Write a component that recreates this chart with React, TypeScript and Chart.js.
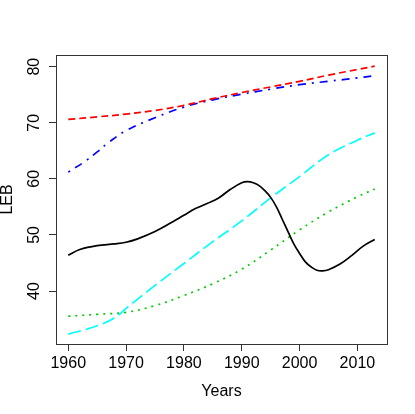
import React, { useEffect, useRef } from "react";
import { Chart, registerables } from "chart.js";

Chart.register(...registerables);

// ---- data ----
const xTicks = [1960, 1970, 1980, 1990, 2000, 2010];
const yTicks = [40, 50, 60, 70, 80];

const blackYears = [1960, 1962, 1965, 1968, 1970, 1972, 1975, 1978, 1980, 1982, 1984, 1986, 1988, 1990, 1991, 1992, 1993, 1994, 1995, 1996, 1997, 1998, 1999, 2000, 2001, 2002, 2003, 2004, 2005, 2007, 2009, 2011, 2013];
const blackLEB = [46.4, 47.4, 48.1, 48.4, 48.7, 49.3, 50.6, 52.3, 53.5, 54.7, 55.6, 56.6, 58.1, 59.3, 59.5, 59.3, 58.8, 57.9, 56.7, 55.0, 52.8, 50.6, 48.4, 46.7, 45.2, 44.3, 43.7, 43.6, 43.8, 44.8, 46.3, 48.0, 49.2];

const redYears = [1960, 1965, 1970, 1975, 1980, 1985, 1990, 1995, 2000, 2005, 2010, 2013];
const redLEB = [70.6, 71.05, 71.55, 72.2, 73.1, 74.3, 75.4, 76.4, 77.4, 78.5, 79.5, 80.1];

const greenYears = [1960, 1965, 1970, 1975, 1980, 1985, 1990, 1995, 2000, 2005, 2010, 2013];
const greenLEB = [35.5, 35.85, 36.2, 37.4, 39.2, 41.3, 43.9, 47.3, 50.9, 54.1, 56.8, 58.2];

const blueYears = [1960, 1963, 1965, 1967, 1970, 1975, 1980, 1985, 1990, 1995, 2000, 2005, 2010, 2013];
const blueLEB = [61.2, 63.2, 64.8, 66.5, 68.6, 70.9, 72.8, 74.1, 75.1, 76.0, 76.8, 77.4, 78.0, 78.4];

const cyanYears = [1960, 1965, 1968, 1970, 1975, 1980, 1985, 1990, 1995, 2000, 2005, 2010, 2013];
const cyanLEB = [32.3, 33.8, 35.2, 36.9, 41.0, 44.9, 48.8, 52.5, 56.6, 60.4, 64.3, 66.9, 68.2];

const FONT = "'Liberation Sans', Arial, Helvetica, sans-serif";

const toPts = (xs: number[], ys: number[]) => xs.map((x, i) => ({ x, y: ys[i] }));

const boxPlugin = {
  id: "rbox",
  afterDraw(chart: any) {
    const { ctx, chartArea } = chart;
    ctx.save();
    ctx.strokeStyle = "#333";
    ctx.lineWidth = 1;
    ctx.strokeRect(
      Math.round(chartArea.left) + 0.5,
      Math.round(chartArea.top) + 0.5,
      Math.round(chartArea.right) - Math.round(chartArea.left),
      Math.round(chartArea.bottom) - Math.round(chartArea.top)
    );
    ctx.restore();
  },
};

export default function App() {
  const ref = useRef<HTMLCanvasElement>(null);
  useEffect(() => {
    document.body.style.margin = "0";
    const mk = (xs: number[], ys: number[], color: string, dash: number[]) => ({
      data: toPts(xs, ys),
      borderColor: color,
      borderWidth: 1.7,
      borderDash: dash,
      pointRadius: 0,
      fill: false,
      tension: 0.4,
    });
    const chart = new Chart(ref.current as HTMLCanvasElement, {
      type: "line",
      data: {
        datasets: [
          mk(blackYears, blackLEB, "#000000", []),
          mk(redYears, redLEB, "#FF0000", [7, 4]),
          mk(greenYears, greenLEB, "#00CD00", [2, 5]),
          mk(blueYears, blueLEB, "#0000FF", [2, 6, 8, 6]),
          mk(cyanYears, cyanLEB, "#00FFFF", [13, 5]),
        ],
      },
      options: {
        animation: false,
        responsive: false,
        events: [],
        plugins: { legend: { display: false }, tooltip: { enabled: false } },
        layout: { padding: { top: 55, right: 28, left: 0, bottom: 0 } },
        scales: {
          x: {
            type: "linear",
            min: 1957.88,
            max: 2015.12,
            afterBuildTicks: (s: any) => {
              s.ticks = xTicks.map((v) => ({ value: v }));
            },
            afterFit: (s: any) => {
              s.height = 70;
            },
            grid: { drawOnChartArea: false, tickLength: 7, color: "#333" },
            border: { display: false },
            ticks: {
              color: "#000",
              font: { family: FONT, size: 16, lineHeight: 1 },
              padding: 4.7,
              maxRotation: 0,
              autoSkip: false,
              callback: (v: any) => String(v),
            },
            title: {
              display: true,
              text: "Years",
              color: "#000",
              font: { family: FONT, size: 16, lineHeight: 1 },
              padding: { top: 0, bottom: 14.5 },
            },
          },
          y: {
            type: "linear",
            min: 30.55,
            max: 82.09,
            afterBuildTicks: (s: any) => {
              s.ticks = yTicks.map((v) => ({ value: v }));
            },
            afterFit: (s: any) => {
              s.width = 56;
            },
            grid: { drawOnChartArea: false, tickLength: 7, color: "#333" },
            border: { display: false },
            ticks: {
              color: "#000",
              font: { family: FONT, size: 16, lineHeight: 1 },
              padding: 5.8,
              minRotation: 90,
              maxRotation: 90,
              crossAlign: "center",
              autoSkip: false,
              callback: (v: any) => String(v),
            },
            title: {
              display: true,
              text: "LEB",
              color: "#000",
              font: { family: FONT, size: 16, lineHeight: 1 },
              padding: { top: 0, bottom: 0 },
            },
          },
        },
      } as any,
      plugins: [boxPlugin],
    });
    return () => chart.destroy();
  }, []);
  return (
    <div style={{ position: "absolute", left: 0, top: 0, width: 415, height: 414 }}>
      <canvas ref={ref} width={415} height={414} style={{ display: "block" }} />
    </div>
  );
}
